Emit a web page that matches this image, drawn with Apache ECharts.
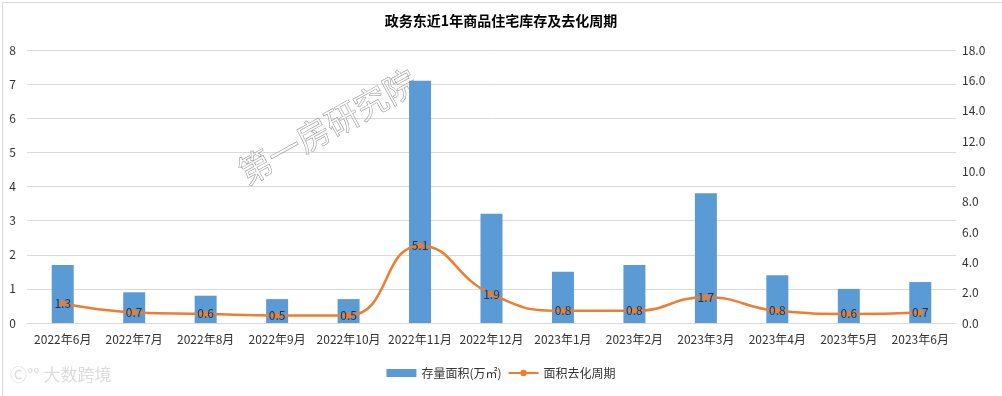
<!DOCTYPE html>
<html><head><meta charset="utf-8">
<script src="https://cdn.jsdelivr.net/npm/echarts@6/dist/echarts.min.js"></script>
<style>html,body{margin:0;padding:0;background:#fff}#c{width:1002px;height:396px}</style>
</head><body><div id="c"></div>
<script>
const categories = ['2022年6月','2022年7月','2022年8月','2022年9月','2022年10月','2022年11月','2022年12月','2023年1月','2023年2月','2023年3月','2023年4月','2023年5月','2023年6月'];
const stockArea = [1.7, 0.9, 0.8, 0.7, 0.7, 7.1, 3.2, 1.5, 1.7, 3.8, 1.4, 1.0, 1.2];
const cycle = [1.3, 0.7, 0.6, 0.5, 0.5, 5.1, 1.9, 0.8, 0.8, 1.7, 0.8, 0.6, 0.7];
const leftTicks = {min: 0, max: 8, interval: 1};
const rightTicks = {min: 0, max: 18, interval: 2};

const chart = echarts.init(document.getElementById('c'));
const font = '"Microsoft YaHei","Noto Sans CJK SC",sans-serif';
chart.setOption({
  animation: false,
  textStyle: {fontFamily: font},
  title: {text: '政务东近1年商品住宅库存及去化周期', left: 'center', top: 9,
    textStyle: {fontSize: 14, fontWeight: 'bold', color: '#000', fontFamily: font}},
  graphic: [
    {type: 'rect', left: 0, top: 0, shape: {width: 1001, height: 395}, style: {fill: 'none', stroke: '#d9d9d9', lineWidth: 1}, silent: true},
    {type: 'text', x: 233, y: 160, rotation: Math.PI * 29 / 180, z: 1, zlevel: 0,
      style: {text: '第一房研究院', font: '33px ' + font, fill: 'rgba(255,255,255,0.3)', stroke: '#8a8a8a', lineWidth: 0.6}},
    {type: 'text', left: 10, top: 366,
      style: {text: 'Ⓒ°° 大数跨境', font: '17px ' + font, fill: '#dcdcdc'}}
  ],
  legend: {bottom: 12, left: 'center', itemGap: 6, itemWidth: 30, itemHeight: 8,
    textStyle: {fontSize: 12, color: '#333'},
    data: [{name: '存量面积(万㎡)', icon: 'rect'}, {name: '面积去化周期'}]},
  grid: {left: 27, right: 46, top: 50, bottom: 73},
  xAxis: {type: 'category', data: categories,
    axisLine: {lineStyle: {color: '#d9d9d9'}}, axisTick: {show: false},
    axisLabel: {color: '#333', fontSize: 12, interval: 0, margin: 10}},
  yAxis: [
    {type: 'value', min: leftTicks.min, max: leftTicks.max, interval: leftTicks.interval,
      axisLabel: {color: '#333', fontSize: 12, margin: 11},
      splitLine: {lineStyle: {color: '#d9d9d9'}}, axisLine: {show: false}, axisTick: {show: false}},
    {type: 'value', min: rightTicks.min, max: rightTicks.max, interval: rightTicks.interval,
      axisLabel: {color: '#333', fontSize: 12, margin: 6, formatter: v => v.toFixed(1)},
      splitLine: {show: false}, axisLine: {show: false}, axisTick: {show: false}}
  ],
  series: [
    {name: '存量面积(万㎡)', type: 'bar', data: stockArea, barWidth: 22, z: 5,
      itemStyle: {color: '#5B9BD5'}},
    {name: '面积去化周期', type: 'line', yAxisIndex: 1, data: cycle, smooth: 0.5, z: 6,
      symbol: 'circle', symbolSize: 6,
      lineStyle: {color: '#ED7D31', width: 2.5}, itemStyle: {color: '#ED7D31'},
      label: {show: true, position: 'inside', color: '#333', fontSize: 12, formatter: p => p.value.toFixed(1)}}
  ]
});
</script></body></html>
